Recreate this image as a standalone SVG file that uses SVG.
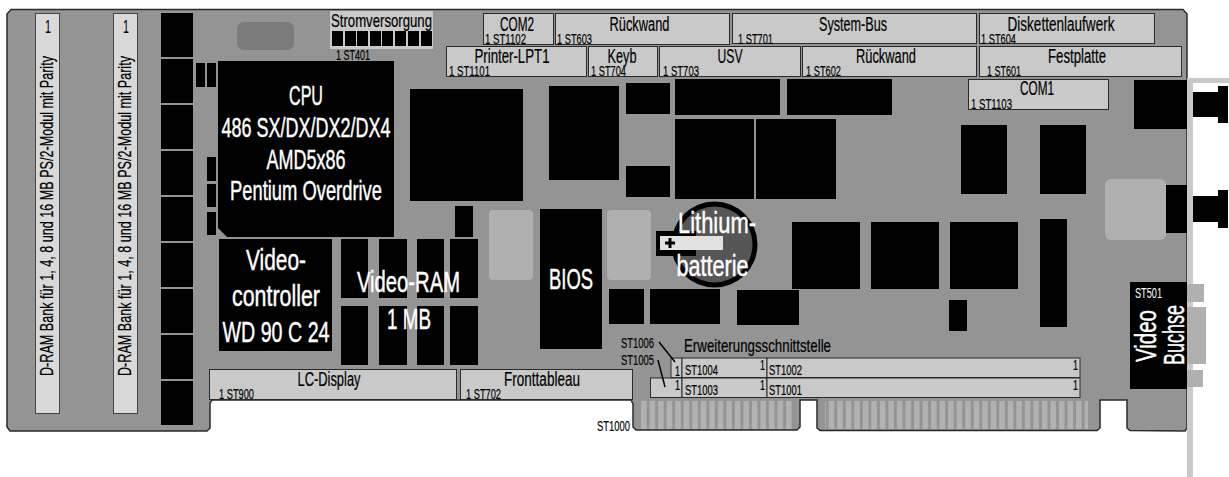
<svg xmlns="http://www.w3.org/2000/svg" width="1229" height="477" viewBox="0 0 1229 477">
<style>
text{font-family:"Liberation Sans",Arial,sans-serif;fill:#000;stroke:#000;stroke-width:.2}
.k{fill:#000}
.conn{fill:#c9c9c9;stroke:#2a2a2a;stroke-width:1}
.lab{font-size:20px;text-anchor:middle}
.tag{font-size:15px}
.one{font-size:14px}
text.w{fill:#fff;stroke:#fff;stroke-width:.45;text-anchor:middle}
text.ws{fill:#fff;stroke:#fff;stroke-width:.4}
.soft{fill:#b0b0b0}
</style>
<defs>
<pattern id="pins" x="641" y="0" width="8.53" height="10" patternUnits="userSpaceOnUse"><rect width="5.6" height="10" fill="#b2b2b2"/></pattern>
</defs>
<g id="board">
<path d="M11 9.500H1183L1187 14V428L1185 431L1130 430.500L1127 428V400H1100V428L1097 430.500H820L817 428V400H800V427L797 430H636L633 427V404L631 400H212L210 403V428L207 431H10L7 427V14Z" fill="#949494" stroke="#2a2a2a" stroke-width="1.500"/>
</g>
<g id="bracket">
<rect x="1187" y="78" width="42" height="5" fill="#c9c9c9"/>
<rect x="1187" y="78" width="6" height="399" fill="#c9c9c9"/>
<rect x="1187" y="284" width="17" height="18" class="soft"/>
<rect x="1187" y="307" width="19" height="57" class="soft"/>
<rect x="1187" y="370" width="16" height="17" class="soft"/>
<path class="k" d="M1193 92H1218V86H1228V123H1218V117H1193Z"/>
<path class="k" d="M1193 196H1218V190H1228V228H1218V222H1193Z"/>
</g>
<g id="ram-slot-1">
<rect x="35.500" y="13.500" width="24" height="400" fill="#d9d9d9" stroke="#444"/>
<text x="45" y="33" font-size="18" textLength="6" lengthAdjust="spacingAndGlyphs" style="stroke-width:0">1</text>
<text transform="translate(53 376) rotate(-90) scale(.76 1)" font-size="18" textLength="421" lengthAdjust="spacingAndGlyphs">D-RAM Bank für 1, 4, 8 und 16 MB PS/2-Modul mit Parity</text>
</g>
<g id="ram-slot-2">
<rect x="113.500" y="13.500" width="24" height="400" fill="#d9d9d9" stroke="#444"/>
<text x="123" y="33" font-size="18" textLength="6" lengthAdjust="spacingAndGlyphs" style="stroke-width:0">1</text>
<text transform="translate(131 376) rotate(-90) scale(.76 1)" font-size="18" textLength="421" lengthAdjust="spacingAndGlyphs">D-RAM Bank für 1, 4, 8 und 16 MB PS/2-Modul mit Parity</text>
</g>
<g id="ram-chips" class="k">
<rect x="161" y="13" width="32" height="44"/><rect x="161" y="59" width="32" height="44"/><rect x="161" y="105" width="32" height="44"/><rect x="161" y="151" width="32" height="44"/><rect x="161" y="197" width="32" height="44"/><rect x="161" y="243" width="32" height="44"/><rect x="161" y="289" width="32" height="44"/><rect x="161" y="335" width="32" height="44"/><rect x="161" y="381" width="32" height="44"/>
</g>
<g id="chips" class="k">
<rect x="196" y="63" width="9" height="24"/><rect x="207" y="63" width="9" height="24"/>
<rect x="207" y="157" width="9" height="24"/><rect x="207" y="184" width="9" height="23"/><rect x="207" y="212" width="9" height="23"/>
<rect x="410" y="89" width="113" height="112"/>
<rect x="549" y="86" width="70" height="94"/>
<rect x="626" y="83" width="44" height="31"/><rect x="626" y="166" width="44" height="31"/>
<rect x="675" y="79" width="105" height="36"/><rect x="787" y="79" width="105" height="36"/>
<rect x="675" y="119" width="79" height="80"/><rect x="756" y="119" width="80" height="80"/>
<rect x="961" y="125" width="46" height="69"/><rect x="1040" y="125" width="46" height="69"/>
<rect x="792" y="222" width="68" height="67"/><rect x="871" y="222" width="68" height="67"/><rect x="950" y="222" width="68" height="67"/>
<rect x="1040" y="219" width="27" height="108"/>
<rect x="949" y="300" width="18" height="31"/>
<rect x="455" y="206" width="18" height="31"/>
<rect x="609" y="289" width="35" height="35"/><rect x="650" y="289" width="70" height="35"/><rect x="737" y="290" width="62" height="35"/>
<rect x="1134" y="80" width="53" height="49"/><rect x="1166" y="185" width="21" height="48"/>
</g>
<g id="soft-shapes">
<rect x="237" y="22" width="57" height="28" rx="7" fill="#7b7b7b"/>
<rect x="489" y="210" width="44" height="70" rx="4" class="soft"/>
<rect x="607" y="210" width="44" height="70" rx="4" class="soft"/>
<rect x="1105" y="179" width="61" height="61" rx="6" class="soft"/>
</g>
<g id="power">
<rect x="330" y="11" width="103" height="38" fill="#c9c9c9"/>
<g class="k"><rect x="332" y="31" width="11" height="15"/><rect x="345" y="31" width="11" height="15"/><rect x="357" y="31" width="11" height="15"/><rect x="370" y="31" width="11" height="15"/><rect x="382" y="31" width="11" height="15"/><rect x="395" y="31" width="11" height="15"/><rect x="408" y="31" width="11" height="15"/><rect x="421" y="31" width="11" height="15"/></g>
<text x="331" y="27" font-size="19" textLength="101" lengthAdjust="spacingAndGlyphs">Stromversorgung</text>
<text x="336" y="60" class="tag" textLength="34" lengthAdjust="spacingAndGlyphs">1 ST401</text>
</g>
<g id="cpu">
<path class="k" d="M218 61H394V237H227L218 228Z"/>
<text class="w" x="306" y="105" font-size="28" textLength="34" lengthAdjust="spacingAndGlyphs">CPU</text>
<text class="w" x="306" y="137" font-size="28" textLength="169" lengthAdjust="spacingAndGlyphs">486 SX/DX/DX2/DX4</text>
<text class="w" x="306" y="169" font-size="28" textLength="79" lengthAdjust="spacingAndGlyphs">AMD5x86</text>
<text class="w" x="306" y="200" font-size="28" textLength="152" lengthAdjust="spacingAndGlyphs">Pentium Overdrive</text>
</g>
<g id="video-controller">
<rect class="k" x="219" y="239" width="113" height="112"/>
<text class="w" x="276" y="270" font-size="30" textLength="60" lengthAdjust="spacingAndGlyphs">Video-</text>
<text class="w" x="276" y="306" font-size="30" textLength="88" lengthAdjust="spacingAndGlyphs">controller</text>
<text class="w" x="276" y="342" font-size="30" textLength="107" lengthAdjust="spacingAndGlyphs">WD 90 C 24</text>
</g>
<g id="video-ram">
<g class="k"><rect x="341" y="239" width="27" height="59"/><rect x="379" y="239" width="28" height="59"/><rect x="417" y="239" width="27" height="59"/><rect x="450" y="239" width="28" height="59"/><rect x="341" y="306" width="27" height="59"/><rect x="379" y="306" width="28" height="59"/><rect x="417" y="306" width="27" height="59"/><rect x="450" y="306" width="28" height="59"/></g>
<text class="w" x="408.500" y="292" font-size="29" textLength="103" lengthAdjust="spacingAndGlyphs">Video-RAM</text>
<text class="w" x="409" y="329" font-size="29" textLength="44" lengthAdjust="spacingAndGlyphs">1 MB</text>
</g>
<g id="bios">
<rect class="k" x="540" y="209" width="62" height="140"/>
<text class="w" x="571" y="289" font-size="29" textLength="44" lengthAdjust="spacingAndGlyphs">BIOS</text>
</g>
<g id="battery">
<circle cx="714.500" cy="244.500" r="43" fill="#000"/>
<circle cx="714.500" cy="244.500" r="38" fill="#565656"/>
<rect class="k" x="656" y="231" width="40" height="25"/>
<rect x="660" y="236" width="63" height="14" fill="#e2e2e2"/>
<path class="k" d="M668.500 238h3v3.500h3.500v3h-3.500v3.500h-3v-3.500h-3.500v-3h3.500Z"/>
<text class="w" x="717" y="233" font-size="29" textLength="78" lengthAdjust="spacingAndGlyphs">Lithium-</text>
<text class="w" x="712.500" y="276" font-size="29" textLength="72" lengthAdjust="spacingAndGlyphs">batterie</text>
</g>
<g id="com2"><rect class="conn" x="483.500" y="13.500" width="70" height="31"/><text class="lab" x="517" y="31" textLength="34" lengthAdjust="spacingAndGlyphs">COM2</text><text class="tag" x="485" y="44" textLength="41" lengthAdjust="spacingAndGlyphs">1 ST1102</text></g>
<g id="rueckwand-1"><rect class="conn" x="555.500" y="13.500" width="174" height="31"/><text class="lab" x="639.500" y="31" textLength="60" lengthAdjust="spacingAndGlyphs">Rückwand</text><text class="tag" x="557" y="44" textLength="35" lengthAdjust="spacingAndGlyphs">1 ST603</text></g>
<g id="system-bus"><rect class="conn" x="732.500" y="13.500" width="244" height="30"/><text class="lab" x="853" y="31" textLength="68" lengthAdjust="spacingAndGlyphs">System-Bus</text><text class="tag" x="738" y="44" textLength="35" lengthAdjust="spacingAndGlyphs">1 ST701</text></g>
<g id="diskette"><rect class="conn" x="979.500" y="13.500" width="175" height="30"/><text class="lab" x="1061" y="31" textLength="107" lengthAdjust="spacingAndGlyphs">Diskettenlaufwerk</text><text class="tag" x="981" y="44" textLength="35" lengthAdjust="spacingAndGlyphs">1 ST604</text></g>
<g id="printer"><rect class="conn" x="446.500" y="46.500" width="140" height="30"/><text class="lab" x="512" y="63" textLength="75" lengthAdjust="spacingAndGlyphs">Printer-LPT1</text><text class="tag" x="449" y="76" textLength="41" lengthAdjust="spacingAndGlyphs">1 ST1101</text></g>
<g id="keyb"><rect class="conn" x="588.500" y="46.500" width="69" height="30"/><text class="lab" x="622" y="63" textLength="29" lengthAdjust="spacingAndGlyphs">Keyb</text><text class="tag" x="591" y="76" textLength="35" lengthAdjust="spacingAndGlyphs">1 ST704</text></g>
<g id="usv"><rect class="conn" x="659.500" y="46.500" width="141" height="30"/><text class="lab" x="730" y="63" textLength="25" lengthAdjust="spacingAndGlyphs">USV</text><text class="tag" x="663" y="76" textLength="36" lengthAdjust="spacingAndGlyphs">1 ST703</text></g>
<g id="rueckwand-2"><rect class="conn" x="802.500" y="46.500" width="174" height="30"/><text class="lab" x="886" y="63" textLength="60" lengthAdjust="spacingAndGlyphs">Rückwand</text><text class="tag" x="806" y="76" textLength="35" lengthAdjust="spacingAndGlyphs">1 ST602</text></g>
<g id="festplatte"><rect class="conn" x="979.500" y="46.500" width="202" height="30"/><text class="lab" x="1077" y="63" textLength="58" lengthAdjust="spacingAndGlyphs">Festplatte</text><text class="tag" x="987" y="76" textLength="34" lengthAdjust="spacingAndGlyphs">1 ST601</text></g>
<g id="com1"><rect class="conn" x="968.500" y="79.500" width="140" height="30"/><text class="lab" x="1037" y="95" textLength="34" lengthAdjust="spacingAndGlyphs">COM1</text><text class="tag" x="971" y="109" textLength="41" lengthAdjust="spacingAndGlyphs">1 ST1103</text></g>
<g id="lc-display"><rect class="conn" x="209.500" y="369.500" width="247" height="30"/><text class="lab" x="329" y="386" textLength="63" lengthAdjust="spacingAndGlyphs">LC-Display</text><text class="tag" x="219" y="399" textLength="35" lengthAdjust="spacingAndGlyphs">1 ST900</text></g>
<g id="fronttableau"><rect class="conn" x="460.500" y="369.500" width="172" height="30"/><text class="lab" x="542" y="386" textLength="76" lengthAdjust="spacingAndGlyphs">Fronttableau</text><text class="tag" x="466" y="399" textLength="35" lengthAdjust="spacingAndGlyphs">1 ST702</text></g>
<g id="expansion">
<text x="684" y="352" font-size="19" textLength="147" lengthAdjust="spacingAndGlyphs">Erweiterungsschnittstelle</text>
<rect class="conn" x="671" y="358" width="11" height="19.500"/><rect class="conn" x="682" y="358" width="85" height="19.500"/><rect class="conn" x="767" y="358" width="313" height="19.500"/>
<rect class="conn" x="650.500" y="378" width="31.500" height="19.500"/><rect class="conn" x="682" y="378" width="85" height="19.500"/><rect class="conn" x="767" y="378" width="313" height="19.500"/>
<g class="one"><text x="675" y="376" textLength="5" lengthAdjust="spacingAndGlyphs">1</text><text x="675" y="390" textLength="5" lengthAdjust="spacingAndGlyphs">1</text><text x="760" y="370" textLength="5" lengthAdjust="spacingAndGlyphs">1</text><text x="760" y="390" textLength="5" lengthAdjust="spacingAndGlyphs">1</text><text x="1073" y="370" textLength="5" lengthAdjust="spacingAndGlyphs">1</text><text x="1073" y="390" textLength="5" lengthAdjust="spacingAndGlyphs">1</text></g>
<g class="tag"><text x="685" y="375" textLength="33" lengthAdjust="spacingAndGlyphs">ST1004</text><text x="685" y="395" textLength="33" lengthAdjust="spacingAndGlyphs">ST1003</text><text x="769" y="375" textLength="33" lengthAdjust="spacingAndGlyphs">ST1002</text><text x="769" y="395" textLength="33" lengthAdjust="spacingAndGlyphs">ST1001</text>
<text x="621" y="348" textLength="33" lengthAdjust="spacingAndGlyphs">ST1006</text><text x="621" y="365" textLength="33" lengthAdjust="spacingAndGlyphs">ST1005</text><text x="597" y="431" textLength="33" lengthAdjust="spacingAndGlyphs">ST1000</text></g>
</g>
<g id="edge-contacts">
<rect x="641" y="401" width="153" height="28" fill="url(#pins)"/>
<rect x="825" y="401" width="263" height="28" fill="url(#pins)"/>
</g>
<g id="video-socket">
<rect class="k" x="1130" y="282" width="57" height="107"/>
<text x="1135" y="298" class="tag ws" textLength="27" lengthAdjust="spacingAndGlyphs" style="stroke-width:0">ST501</text>
<text class="ws" transform="translate(1156 362) rotate(-90)" font-size="29" textLength="52" lengthAdjust="spacingAndGlyphs">Video</text>
<text class="ws" transform="translate(1184 365) rotate(-90)" font-size="29" textLength="60" lengthAdjust="spacingAndGlyphs">Buchse</text>
</g>
<g id="connectors" fill="none" stroke="#000" stroke-width="1.500">
<path d="M659 342L675 362"/>
<path d="M658 360L665 387"/>
</g>
</svg>
